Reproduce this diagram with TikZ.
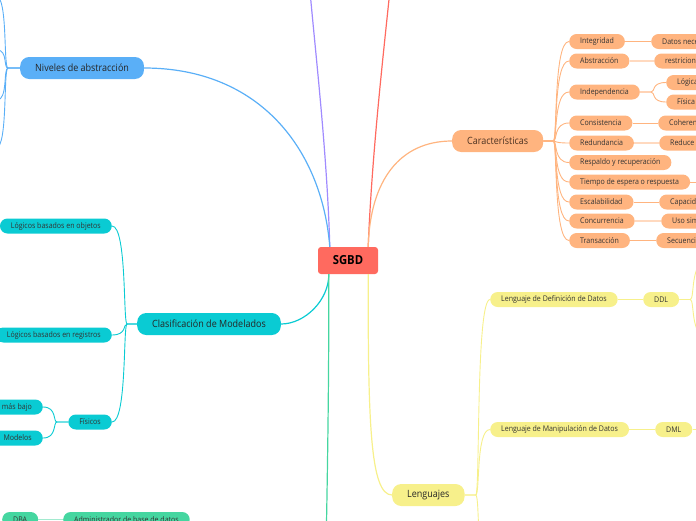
\documentclass[tikz,border=0pt]{standalone}
\usepackage{fontspec}
\setmainfont{Open Sans}[FakeStretch=0.9]
\usetikzlibrary{positioning}
\definecolor{sgbdred}{HTML}{FF6A5F}
\definecolor{nivblue}{HTML}{5AAFF7}
\definecolor{caror}{HTML}{FFB47F}
\definecolor{clascy}{HTML}{0ACBD3}
\definecolor{lenyel}{HTML}{F7F08B}
\definecolor{grn}{HTML}{45D6A0}
\definecolor{purp}{HTML}{A08BFF}
\definecolor{brtext}{HTML}{4D3322}

\begin{document}
\begin{tikzpicture}[x=1pt,y=-1pt,
    topic/.style={fill=#1,rounded corners=9pt,minimum height=22pt,inner xsep=15pt,inner ysep=0pt,
      font=\fontsize{10}{12}\selectfont,text=black!85},
    subnode/.style={fill=#1,rounded corners=7.5pt,minimum height=15pt,inner xsep=11pt,inner ysep=0pt,
      font=\fontsize{7.8}{9}\selectfont,text=black!80},
    mainline/.style={draw=#1,line width=1.2pt},
    subline/.style={draw=#1,line width=0.9pt},
    paleline/.style={draw=#1!50,line width=1.6pt},
    branch/.style={to path={-- ++(#1,0) coordinate (brk)
      .. controls ([xshift=#1*0.4]brk) and (brk |- \tikztotarget) .. (\tikztotarget)}}]
  \useasboundingbox (0,0) rectangle (696,520);
  \clip (0,0) rectangle (696,520);

  \node[fill=sgbdred,rounded corners=3pt,minimum width=60pt,minimum height=27pt,
    font=\bfseries\fontsize{12.5}{15}\selectfont] (sgbd) at (348,260.5) {SGBD};

  % main topics
  \node[topic=nivblue,anchor=west] (niv) at (20,68) {Niveles de abstracción};
  \node[topic=caror,anchor=west,text=brtext] (car) at (452,141) {Características};
  \node[topic=clascy,anchor=east] (clas) at (281,324) {Clasificación de Modelados};
  \node[topic=lenyel,anchor=west] (len) at (392,495) {Lenguajes};
  \coordinate (purptop) at (309,-20);
  \coordinate (redtop) at (391,-20);
  \coordinate (grnbot) at (325,600);

  \draw[mainline=purp] ([xshift=12pt]sgbd.north west) .. controls (327,150) and (315,50) .. (purptop);
  \draw[mainline=sgbdred] ([xshift=-10pt]sgbd.north east) .. controls (372,150) and (385,40) .. (redtop);
  \draw[mainline=nivblue] ([xshift=12pt]sgbd.north west) .. controls (322,150) and (260,68) .. (niv.east);
  \draw[mainline=caror] ([xshift=-10pt]sgbd.north east) .. controls (370,180) and (400,141) .. (car.west);
  \draw[mainline=clascy] ([xshift=11pt]sgbd.south west) .. controls (329,300) and (305,324) .. (clas.east);
  \draw[mainline=grn] ([xshift=11pt]sgbd.south west) .. controls (329,400) and (327,500) .. (grnbot);
  \draw[mainline=lenyel] ([xshift=-10pt]sgbd.south east) .. controls (368,420) and (370,495) .. (len.west);

  % Caracteristicas
  \begin{scope}[every node/.append style={text=brtext}]
    \node[subnode=caror,anchor=west] (int) at (569,41.5) {Integridad};
    \node[subnode=caror,anchor=west] (abs) at (569,61) {Abstracción};
    \node[subnode=caror,anchor=west] (ind) at (569,92) {Independencia};
    \node[subnode=caror,anchor=west] (cons) at (569,123) {Consistencia};
    \node[subnode=caror,anchor=west] (red) at (569,143) {Redundancia};
    \node[subnode=caror,anchor=west] (resp) at (569,162.5) {Respaldo y recuperación};
    \node[subnode=caror,anchor=west] (tiem) at (569,182) {Tiempo de espera o respuesta};
    \node[subnode=caror,anchor=west] (esc) at (569,202) {Escalabilidad};
    \node[subnode=caror,anchor=west] (conc) at (569,221) {Concurrencia};
    \node[subnode=caror,anchor=west] (tran) at (569,240.5) {Transacción};

    \node[subnode=caror,anchor=west] (datos) at (651,41.5) {Datos necesarios};
    \node[subnode=caror,anchor=west] (restr) at (654,61) {restriciones};
    \node[subnode=caror,anchor=west] (logi) at (666,82.5) {Lógica};
    \node[subnode=caror,anchor=west] (fisi) at (666,102) {Física};
    \node[subnode=caror,anchor=west] (cohe) at (658,123) {Coherencia};
    \node[subnode=caror,anchor=west] (redu) at (659,143) {Reduce datos};
    \node[subnode=caror,anchor=west] (capa) at (659,202) {Capacidad};
    \node[subnode=caror,anchor=west] (uso) at (661,221) {Uso simultáneo};
    \node[subnode=caror,anchor=west] (secu) at (656,240.5) {Secuencia};
  \end{scope}
  \coordinate (tiemend) at (706,182);

  \foreach \n in {int,abs,ind,cons,red,resp,tiem,esc,conc,tran}
    \draw[subline=caror] (car.east) to[branch=10] (\n.west);
  \draw[subline=caror] (int) -- (datos);
  \draw[paleline=caror] (abs) -- (restr);
  \draw[subline=caror] (ind.east) to[branch=11] (logi.west);
  \draw[subline=caror] (ind.east) to[branch=11] (fisi.west);
  \draw[subline=caror] (cons) -- (cohe);
  \draw[paleline=caror] (red) -- (redu);
  \draw[subline=caror] (tiem.east) -- (tiemend);
  \draw[subline=caror] (esc) -- (capa);
  \draw[paleline=caror] (conc) -- (uso);
  \draw[subline=caror] (tran) -- (secu);

  % Niveles de abstraccion
  \coordinate (nv1) at (-4,-4);
  \coordinate (nv2) at (-3,50);
  \coordinate (nv3) at (-3,100);
  \coordinate (nv4) at (-4,148);
  \foreach \n in {nv1,nv2,nv3,nv4}
    \draw[subline=nivblue] (niv.west) to[branch=-12] (\n);

  % Clasificacion de Modelados
  \node[subnode=clascy,anchor=east] (obj) at (112,226) {Lógicos basados en objetos};
  \node[subnode=clascy,anchor=east] (reg) at (112,335) {Lógicos basados en registros};
  \node[subnode=clascy,anchor=east] (fis) at (112,422) {Físicos};
  \node[subnode=clascy,anchor=east] (bajo) at (43,407) {Nivel más bajo};
  \node[subnode=clascy,anchor=east] (mod) at (43,438) {Modelos};
  \foreach \n in {obj,reg,fis}
    \draw[subline=clascy] (clas.west) to[branch=-10] (\n.east);
  \foreach \n in {bajo,mod}
    \draw[subline=clascy] (fis.west) to[branch=-11] (\n.east);

  % Lenguajes
  \node[subnode=lenyel,anchor=west] (ldd) at (490,299.5) {Lenguaje de Definición de Datos};
  \node[subnode=lenyel,anchor=west] (ddl) at (643,299.5) {DDL};
  \node[subnode=lenyel,anchor=west] (lmd) at (490,429.5) {Lenguaje de Manipulación de Datos};
  \node[subnode=lenyel,anchor=west] (dml) at (655,429.5) {DML};
  \coordinate (len3) at (490,580);
  \coordinate (ddl1) at (706,262);
  \coordinate (ddl2) at (706,336);
  \coordinate (dmlend) at (706,429.5);
  \foreach \n in {ldd.west,lmd.west,len3}
    \draw[subline=lenyel] (len.east) to[branch=11] (\n);
  \draw[subline=lenyel] (ldd) -- (ddl);
  \draw[subline=lenyel] (lmd) -- (dml);
  \draw[subline=lenyel] (ddl.east) to[branch=11] (ddl1);
  \draw[subline=lenyel] (ddl.east) to[branch=11] (ddl2);
  \draw[subline=lenyel] (dml.east) -- (dmlend);

  % DBA
  \node[subnode=grn,anchor=west] (dba) at (2,519.5) {DBA};
  \node[subnode=grn,anchor=west] (admin) at (63,519.5) {Administrador de base de datos};
  \draw[paleline=grn] (dba) -- (admin);
\end{tikzpicture}
\end{document}
